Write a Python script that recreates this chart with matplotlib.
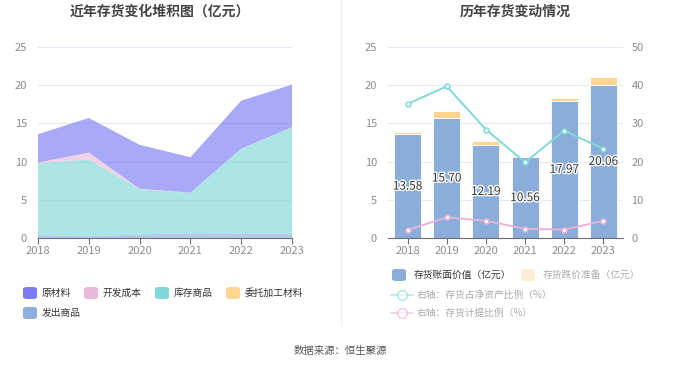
import matplotlib
matplotlib.use('Agg')
import matplotlib.pyplot as plt
from matplotlib.patches import FancyBboxPatch
from matplotlib.lines import Line2D
import matplotlib.patheffects as pe
import numpy as np

plt.rcParams['font.family'] = ['Noto Sans CJK SC', 'DejaVu Sans']

years = ['2018', '2019', '2020', '2021', '2022', '2023']

# 左图：存货构成（亿元）
raw_material = [3.71, 4.52, 5.74, 4.64, 6.28, 5.57]
dev_cost = [0.08, 0.88, 0.05, 0.02, 0.02, 0.02]
stock_goods = [9.38, 10.08, 5.92, 5.28, 11.07, 13.95]
outsourced = [0.01, 0.01, 0.01, 0.01, 0.01, 0.01]
shipped_goods = [0.40, 0.22, 0.48, 0.62, 0.60, 0.52]

# 右图
book_value = [13.58, 15.70, 12.19, 10.56, 17.97, 20.06]
provision = [0.24, 0.88, 0.53, 0.23, 0.41, 0.95]
ratio_net_assets = [35.1, 39.7, 28.4, 19.8, 28.1, 23.3]
provision_ratio = [2.1, 5.4, 4.5, 2.4, 2.2, 4.5]

c_raw = '#7b7bf5'
c_dev = '#e8b9d9'
c_stock = '#80d8d8'
c_out = '#ffd591'
c_ship = '#8eaedc'
grid_c = '#e6e9f5'
tick_c = '#8c8c8c'

fig = plt.figure(figsize=(6.8, 3.67), dpi=100)

# ---------- left ----------
ax1 = fig.add_axes([38/680, 1-238/367, 254/680, 191/367])
x = np.arange(len(years))
ax1.stackplot(x, shipped_goods, stock_goods, outsourced, dev_cost, raw_material,
              colors=[c_ship, c_stock, c_out, c_dev, c_raw], alpha=0.65, linewidth=0)
ax1.set_xlim(0, 5)
ax1.set_ylim(0, 25)
ax1.set_yticks([0, 5, 10, 15, 20, 25])
ax1.set_xticks(x)
ax1.set_xticklabels(years)
ax1.grid(axis='y', color=grid_c, linewidth=0.8)
ax1.set_axisbelow(True)
for s in ['top', 'right', 'left']:
    ax1.spines[s].set_visible(False)
ax1.spines['bottom'].set_color('#6e7079')
ax1.tick_params(axis='y', length=0, labelsize=8, labelcolor=tick_c, pad=8)
ax1.tick_params(axis='x', length=4, color='#6e7079', labelsize=8, labelcolor=tick_c, pad=2)
fig.text(160/680, 1-12/367, '近年存货变化堆积图（亿元）', ha='center', va='center',
         fontsize=10, fontweight='bold', color='#444444')

# ---------- right ----------
ax2 = fig.add_axes([388/680, 1-238/367, 235/680, 191/367])
ax2.bar(x, book_value, width=0.69, color='#8badd9', edgecolor='white', linewidth=0.6, zorder=2)
ax2.bar(x, provision, bottom=book_value, width=0.69, color='#ffd591',
        edgecolor='white', linewidth=0.6, zorder=2)
for i, v in enumerate(book_value):
    ax2.text(i, v/2, f'{v:.2f}', ha='center', va='center', fontsize=8.5, color='#333333',
             path_effects=[pe.withStroke(linewidth=2, foreground='white')], zorder=5)
ax2.set_xlim(-0.5, 5.5)
ax2.set_ylim(0, 25)
ax2.set_yticks([0, 5, 10, 15, 20, 25])
ax2.set_xticks(x)
ax2.set_xticklabels(years)
ax2.grid(axis='y', color=grid_c, linewidth=0.8)
ax2.set_axisbelow(True)
for s in ['top', 'right', 'left']:
    ax2.spines[s].set_visible(False)
ax2.spines['bottom'].set_color('#6e7079')
ax2.tick_params(axis='y', length=0, labelsize=8, labelcolor=tick_c, pad=8)
ax2.tick_params(axis='x', length=4, color='#6e7079', labelsize=8, labelcolor=tick_c, pad=2)

ax3 = ax2.twinx()
ax3.plot(x, ratio_net_assets, color='#80d8d8', linewidth=1.4, marker='o', markersize=3.5,
         markerfacecolor='white', markeredgecolor='#80d8d8', markeredgewidth=1.1, zorder=4)
ax3.plot(x, provision_ratio, color='#e8b3d8', linewidth=1.4, marker='o', markersize=3.5,
         markerfacecolor='white', markeredgecolor='#e8b3d8', markeredgewidth=1.1, zorder=4)
ax3.set_ylim(0, 50)
ax3.set_yticks([0, 10, 20, 30, 40, 50])
for s in ['top', 'right', 'left', 'bottom']:
    ax3.spines[s].set_visible(False)
ax3.tick_params(axis='y', length=0, labelsize=8, labelcolor=tick_c, pad=6)
fig.text(515/680, 1-12/367, '历年存货变动情况', ha='center', va='center',
         fontsize=10, fontweight='bold', color='#444444')

# divider
fig.add_artist(Line2D([341/680, 341/680], [1-325/367, 1.0], color='#eeeeee', linewidth=0.8))


def swatch(px, py, color, alpha=1.0):
    fig.add_artist(FancyBboxPatch((px/680, 1-(py+6)/367), 14/680, 12/367,
                                  boxstyle='round,pad=0,rounding_size=0.006',
                                  facecolor=color, edgecolor='none', alpha=alpha))


def line_swatch(px, py, color):
    yy = 1-py/367
    fig.add_artist(Line2D([px/680, (px+22)/680], [yy, yy], color=color, linewidth=1.2, alpha=0.6))
    fig.add_artist(Line2D([(px+11)/680], [yy], marker='o', markersize=7, markerfacecolor='white',
                          markeredgecolor=color, markeredgewidth=1.2, alpha=0.6))


left_items = [('原材料', c_raw, 23, 293), ('开发成本', c_dev, 84, 293),
              ('库存商品', c_stock, 155, 293), ('委托加工材料', c_out, 226, 293),
              ('发出商品', c_ship, 23, 313)]
for name, col, px, py in left_items:
    swatch(px, py, col)
    fig.text((px+19)/680, 1-py/367, name, ha='left', va='center', fontsize=7, color='#333333')

swatch(392, 275, '#8badd9')
fig.text(414/680, 1-275/367, '存货账面价值（亿元）', ha='left', va='center', fontsize=7, color='#333333')
swatch(521, 275, '#ffd591', alpha=0.4)
fig.text(543/680, 1-275/367, '存货跌价准备（亿元）', ha='left', va='center', fontsize=7, color='#aaaaaa')
line_swatch(391, 295, '#80d8d8')
fig.text(417/680, 1-295/367, '右轴：存货占净资产比例（%）', ha='left', va='center', fontsize=7, color='#aaaaaa')
line_swatch(391, 313, '#e8b3d8')
fig.text(417/680, 1-313/367, '右轴：存货计提比例（%）', ha='left', va='center', fontsize=7, color='#aaaaaa')

fig.text(340/680, 1-351/367, '数据来源：恒生聚源', ha='center', va='center', fontsize=7.5, color='#555555')

fig.savefig('out.png', dpi=100)
